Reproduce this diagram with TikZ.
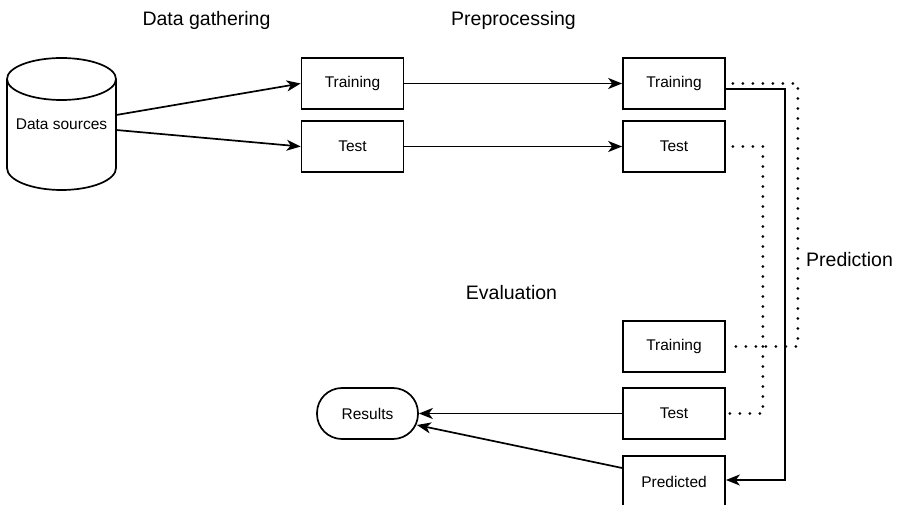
\documentclass[tikz,border=0pt]{standalone}
\usepackage{fontspec}
\setmainfont{Liberation Sans}
\usetikzlibrary{arrows.meta}
\begin{document}
\begin{tikzpicture}[x=1pt,y=-1pt,
  box/.style={draw, line width=1.7pt, minimum width=102pt, minimum height=51pt, inner sep=0pt, font=\fontsize{15.5}{18}\selectfont},
  pill/.style={box, rounded corners=25pt, minimum width=101pt},
  title/.style={anchor=base, inner sep=0pt, font=\fontsize{19.5}{23}\selectfont},
  conn/.style={line width=1.7pt, -{Stealth[length=14pt,width=11pt,inset=4pt]}},
  dots/.style={line width=2.8pt, line cap=round, dash pattern=on 0pt off 10pt, dash phase=3pt}]
\useasboundingbox (0,0) rectangle (898,505);
% cylinder
\draw[line width=1.7pt] (61.5,79) ellipse [x radius=54.5, y radius=21];
\draw[line width=1.7pt] (7,79) -- (7,168) arc[start angle=180, end angle=0, x radius=54.5, y radius=22] -- (116,79);
\node[minimum width=109pt, minimum height=132pt, inner sep=0pt, font=\fontsize{15.5}{18}\selectfont] (ds) at (61.5,124) {Data sources};
% boxes
\node[box] (tr1) at (352.5,83.5) {Training};
\node[box] (te1) at (352.5,146.5) {Test};
\node[box] (tr2) at (674,83.5) {Training};
\node[box] (te2) at (674,146.5) {Test};
\node[box] (tr3) at (674,346.5) {Training};
\node[box] (te3) at (674,413.5) {Test};
\node[box] (pr) at (674,481.5) {Predicted};
\node[pill] (res) at (367.5,413.5) {Results};
% titles
\node[title] (t1) at (206.5,26) {Data gathering};
\node[title] (t2) at (513.5,26) {Preprocessing};
\node[title] (t3) at (511.5,300) {Evaluation};
\node[title, anchor=base west] (t4) at (806,267) {Prediction};
% connectors
\draw[conn] ([yshift=9pt]ds.east) -- (tr1.west);
\draw[conn] ([yshift=-6pt]ds.east) -- (te1.west);
\draw[conn] (tr1.east) -- (tr2.west);
\draw[conn] (te1.east) -- (te2.west);
\draw[dots] (tr2.east) -- ++(72,0) |- (tr3.east);
\draw[dots] (te2.east) -- ++(37,0) |- (te3.east);
\draw[conn] ([yshift=-5.5pt]tr2.east) -- ++(59,0) |- ([yshift=1.5pt]pr.east);
\draw[conn] (te3.west) -- (res.east);
\draw[conn] ([yshift=13.5pt]pr.west) -- ([xshift=-2pt,yshift=-11.5pt]res.east);
\end{tikzpicture}
\end{document}
